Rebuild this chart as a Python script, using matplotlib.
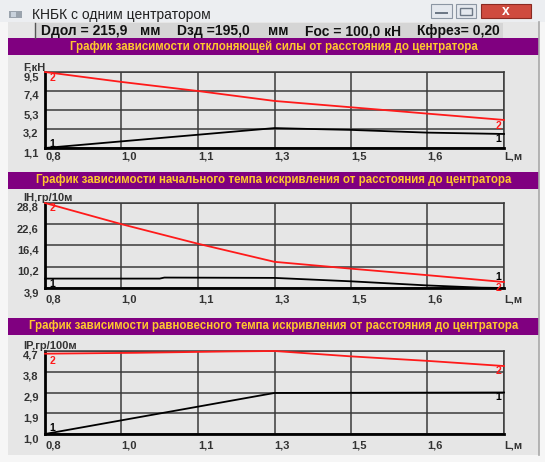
import numpy as np
import matplotlib
matplotlib.use("Agg")
import matplotlib.pyplot as plt
from matplotlib.patches import Rectangle

W, H = 545, 462
plt.rcParams['font.family'] = ['Liberation Sans', 'DejaVu Sans']

# distance to the stabilizer, m
x_ticks = np.linspace(0.8, 1.8, 7)
x_labels = ["0,8", "1,0", "1,1", "1,3", "1,5", "1,6", "L,м"]

# deflecting force, kN
f_x = [0.8, 0.967, 1.133, 1.3, 1.467, 1.633, 1.8]
f_red = [9.5, 8.4, 7.4, 6.3, 5.6, 4.9, 4.2]
f_black_x = [0.8, 1.3, 1.38, 1.467, 1.633, 1.8]
f_black = [1.1, 3.3, 3.2, 3.1, 2.8, 2.65]
f_ticks = ["1,1", "3,2", "5,3", "7,4", "9,5"]

# initial build rate, deg/10m
h_x = [0.8, 0.967, 1.133, 1.3, 1.467, 1.633, 1.8]
h_red = [28.8, 22.6, 16.9, 11.6, 9.6, 7.7, 5.7]
h_black_x = [0.8, 1.05, 1.06, 1.3, 1.467, 1.633, 1.75, 1.8]
h_black = [6.7, 6.7, 7.0, 6.9, 5.9, 4.7, 4.05, 3.95]
h_ticks = ["3,9", "10,2", "16,4", "22,6", "28,8"]

# equilibrium build rate, deg/100m
p_red_x = [0.8, 1.0, 1.2, 1.3, 1.467, 1.633, 1.8]
p_red = [4.58, 4.62, 4.68, 4.7, 4.46, 4.26, 4.03]
p_black_x = [0.8, 1.3, 1.8]
p_black = [1.0, 2.83, 2.85]
p_ticks = ["1,0", "1,9", "2,9", "3,8", "4,7"]

PURPLE = '#800080'
YELLOW = '#ffc82e'
APP_BG = '#e6e6e6'
RED = '#ff1a1a'

fig = plt.figure(figsize=(W / 100, H / 100), dpi=100)
fig.patch.set_facecolor('#f6f6f6')
bg = fig.add_axes([0, 0, 1, 1])
bg.set_xlim(0, W)
bg.set_ylim(H, 0)
bg.axis('off')


def box(x0, y0, x1, y1, **kw):
    bg.add_patch(Rectangle((x0, y0), x1 - x0, y1 - y0, **kw))


# window frame and title bar
box(0, 0, W, 22, color='#eceef1', lw=0)
box(8, 22, 539, 455, color=APP_BG, lw=0)
bg.plot([539, 539], [22, 455], color='#a8a8a8', lw=1.2)
box(9, 11, 22, 18, color='#9aa3ad', lw=0)
box(11, 12, 16, 17, color='#c9d2dc', lw=0)
bg.text(32, 15, "КНБК с одним центратором", fontsize=10, va='center',
        ha='left', color='#202020')
for x0, x1 in [(431, 452), (456, 476)]:
    box(x0, 4, x1, 18, facecolor='#e4e8ee', edgecolor='#8c96a3', lw=0.8)
box(435, 12, 448, 14, color='#6d7886', lw=0)
box(460, 8, 472, 15, facecolor='none', edgecolor='#6d7886', lw=1.0)
box(481, 4, 531, 18, facecolor='#cf4b3f', edgecolor='#8a2a22', lw=0.8)
bg.text(506, 11, "x", fontsize=10, fontweight='bold', color='white',
        ha='center', va='center')

# parameter panel
box(35, 23, 503, 38, color='#d5d5d5', lw=0)
bg.plot([35, 35], [23, 38], color='#555555', lw=1.0)
for x, s in [(41, "Dдол = 215,9"), (140, "мм"), (177, "Dзд =195,0"),
             (268, "мм"), (305, "Fос = 100,0 кН"), (417, "Кфрез= 0,20")]:
    bg.text(x, 31, s, fontsize=10, fontweight='bold', va='center', ha='left',
            color='#111111')


def chart(bar_top, top, bottom, title, unit, ylim, yticks, lines, marks, xpad):
    box(8, bar_top, 539, bar_top + 17, color=PURPLE, lw=0)
    bg.text(274, bar_top + 8.5, title, fontsize=8.3, fontweight='bold',
            color=YELLOW, ha='center', va='center')
    bg.text(23, top - 5, unit, fontsize=8, fontweight='bold', color='#333333',
            ha='left', va='center')

    ax = fig.add_axes([45 / W, 1 - bottom / H, (504 - 45) / W, (bottom - top) / H])
    ax.set_facecolor(APP_BG)
    ax.set_xlim(0.8, 1.8)
    ax.set_ylim(*ylim)
    ax.set_xticks(x_ticks)
    ax.set_xticklabels(x_labels, ha='left', fontsize=8, fontweight='bold')
    ax.set_yticks(np.linspace(ylim[0], ylim[1], 5))
    ax.set_yticklabels(yticks, va='top', fontsize=8, fontweight='bold')
    ax.tick_params(length=0, colors='#333333')
    ax.tick_params(axis='x', pad=xpad)
    ax.tick_params(axis='y', pad=4.5)
    ax.grid(True, color='#3a3a3a', lw=1.1)
    ax.set_axisbelow(True)
    for side in ['top', 'right']:
        ax.spines[side].set_color('#3a3a3a')
        ax.spines[side].set_linewidth(1.1)
    for side in ['left', 'bottom']:
        ax.spines[side].set_color('black')
        ax.spines[side].set_linewidth(2.0)

    for xs, ys, c in lines:
        ax.plot(xs, ys, color=c, lw=1.3, clip_on=False, zorder=3)

    for x, y, s, c, dx, dy in marks:
        ax.annotate(s, (x, y), xytext=(dx * 0.72, -dy * 0.72),
                    textcoords='offset points', ha='center', va='center',
                    fontsize=7.5, fontweight='bold', color=c, zorder=4)
    return ax


chart(38, 72, 148,
      "График зависимости отклоняющей силы от расстояния до центратора",
      "F,кН", (1.1, 9.5), f_ticks,
      [(f_x, f_red, RED), (f_black_x, f_black, 'black')],
      [(f_x[0], f_red[0], "2", RED, 7, 6),
       (f_black_x[0], f_black[0], "1", 'black', 7, -4),
       (f_x[-1], f_red[-1], "2", RED, -6, 6),
       (f_black_x[-1], f_black[-1], "1", 'black', -6, 5)],
      2.5)

chart(172, 203, 288,
      "График зависимости начального темпа искривления от расстояния до центратора",
      "IH,гр/10м", (3.95, 28.8), h_ticks,
      [(h_x, h_red, RED), (h_black_x, h_black, 'black')],
      [(h_x[0], h_red[0], "2", RED, 7, 5),
       (h_black_x[0], h_black[0], "1", 'black', 7, 5),
       (h_x[-1], h_red[-1], "1", 'black', -6, -5),
       (h_x[-1], h_red[-1], "2", RED, -6, 5.5)],
      4.5)

chart(318, 351, 434,
      "График зависимости равновесного темпа искривления от расстояния до центратора",
      "IP,гр/100м", (1.0, 4.7), p_ticks,
      [(p_red_x, p_red, RED), (p_black_x, p_black, 'black')],
      [(p_red_x[0], p_red[0], "2", RED, 7, 7),
       (p_black_x[0], p_black[0], "1", 'black', 7, -6),
       (p_red_x[-1], p_red[-1], "2", RED, -6, 5),
       (p_black_x[-1], p_black[-1], "1", 'black', -6, 5)],
      5)

fig.savefig('out.png', dpi=100)
